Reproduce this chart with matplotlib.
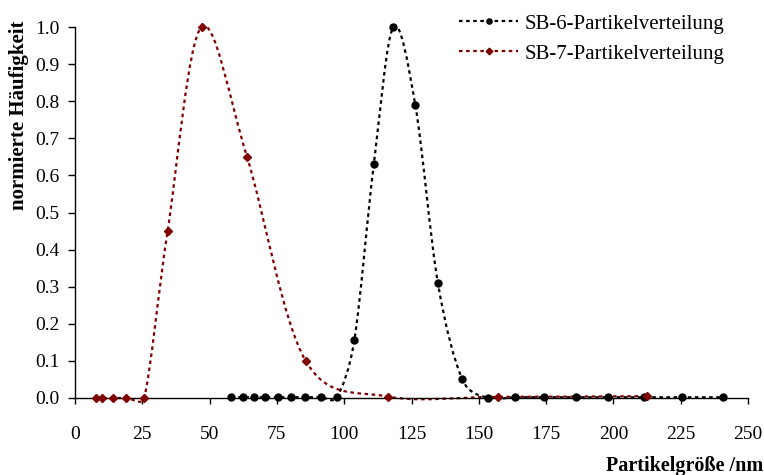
import numpy as np
import matplotlib
matplotlib.use("Agg")
import matplotlib.pyplot as plt
from matplotlib.path import Path
from matplotlib.patches import PathPatch
from matplotlib.lines import Line2D

# ---- data ----
sb6_x = [58.0, 62.3, 66.5, 70.6, 75.4, 80.1, 85.4, 91.4, 97.3, 103.8, 111.0, 118.3,
         126.4, 134.8, 143.9, 153.3, 163.4, 174.2, 186.1, 198.0, 211.4, 225.4, 240.6]
sb6_y = [0.002, 0.002, 0.002, 0.002, 0.002, 0.002, 0.002, 0.002, 0.002, 0.157, 0.63, 1.0,
         0.79, 0.31, 0.05, 0.0, 0.002, 0.002, 0.002, 0.002, 0.002, 0.002, 0.002]
sb7_x = [7.8, 10.2, 14.2, 19.1, 25.7, 34.4, 47.0, 63.9, 85.7, 116.1, 157.0, 212.4]
sb7_y = [0.0, 0.0, 0.0, 0.0, 0.0, 0.45, 1.0, 0.65, 0.10, 0.004, 0.003, 0.005]
labels = ["SB-6-Partikelverteilung", "SB-7-Partikelverteilung"]
x_ticks = [0, 25, 50, 75, 100, 125, 150, 175, 200, 225, 250]
y_ticks = [0.0, 0.1, 0.2, 0.3, 0.4, 0.5, 0.6, 0.7, 0.8, 0.9, 1.0]
x_label = "Partikelgröße /nm"
y_label = "normierte Häufigkeit"

plt.rcParams['font.family'] = ['Liberation Serif', 'DejaVu Serif']

W, H = 764, 475
fig = plt.figure(figsize=(W / 100, H / 100), dpi=100)
ax = fig.add_axes([75 / W, 1 - 398 / H, (748 - 75) / W, (398 - 27) / H])
ax.set_xlim(0, 250)
ax.set_ylim(0, 1.0)


def smooth_path(xs, ys):
    """Excel-style smoothed line: Catmull-Rom cubic Bezier segments (screen space),
    handle length limited to half the segment length."""
    pts = np.column_stack([xs, ys]).astype(float)
    p = ax.transData.transform(pts)
    n = len(p)
    verts = [p[0]]
    codes = [Path.MOVETO]

    def limit(h, seg):
        L = np.hypot(*h)
        m = 0.5 * seg
        return h * (m / L) if L > m else h

    for i in range(n - 1):
        p0 = p[i - 1] if i > 0 else p[i]
        p1 = p[i]
        p2 = p[i + 1]
        p3 = p[i + 2] if i + 2 < n else p[i + 1]
        seg = np.hypot(*(p2 - p1))
        c1 = p1 + limit((p2 - p0) / 6.0, seg)
        c2 = p2 - limit((p3 - p1) / 6.0, seg)
        verts += [c1, c2, p2]
        codes += [Path.CURVE4] * 3
    verts = ax.transData.inverted().transform(np.array(verts))
    return Path(verts, codes)


series = [
    (sb6_x, sb6_y, "black", "o", 5.0),
    (sb7_x, sb7_y, "#800000", "D", 4.5),
]
dash = (0, (1.6, 1.6))
handles = []
for (xs, ys, col, mk, ms), lab in zip(series, labels):
    patch = PathPatch(smooth_path(xs, ys), fill=False, edgecolor=col, lw=1.6,
                      linestyle=dash, clip_on=False)
    ax.add_patch(patch)
    ax.plot(xs, ys, linestyle="none", marker=mk, color=col, ms=ms, clip_on=False,
            zorder=3)
    handles.append(Line2D([], [], color=col, lw=1.6, linestyle=dash, marker=mk,
                          ms=ms * 0.75, label=lab))

ax.set_xticks(x_ticks)
ax.set_yticks(y_ticks)
ax.set_yticklabels([f"{v:.1f}" for v in y_ticks])
for s in ["top", "right"]:
    ax.spines[s].set_visible(False)
for s in ["left", "bottom"]:
    ax.spines[s].set_linewidth(1.0)
ax.tick_params(axis="x", direction="out", length=4, width=1, pad=16, labelsize=14)
ax.tick_params(axis="y", direction="out", length=5, width=1, pad=6, labelsize=14)

fig.text(19 / W, 1 - 115 / H, y_label, rotation=90, ha="center", va="center",
         fontsize=15, fontweight="bold")
fig.text(763 / W, 1 - 471 / H, x_label, ha="right", va="baseline",
         fontsize=14.5, fontweight="bold")

leg = ax.legend(handles=handles, loc="upper left", bbox_to_anchor=(459 / W, 1 - 14 / H),
                bbox_transform=fig.transFigure, frameon=False, fontsize=15,
                handlelength=2.85, handletextpad=0.3, labelspacing=0.5,
                borderaxespad=0, borderpad=0)

fig.savefig("out.png", dpi=100)
